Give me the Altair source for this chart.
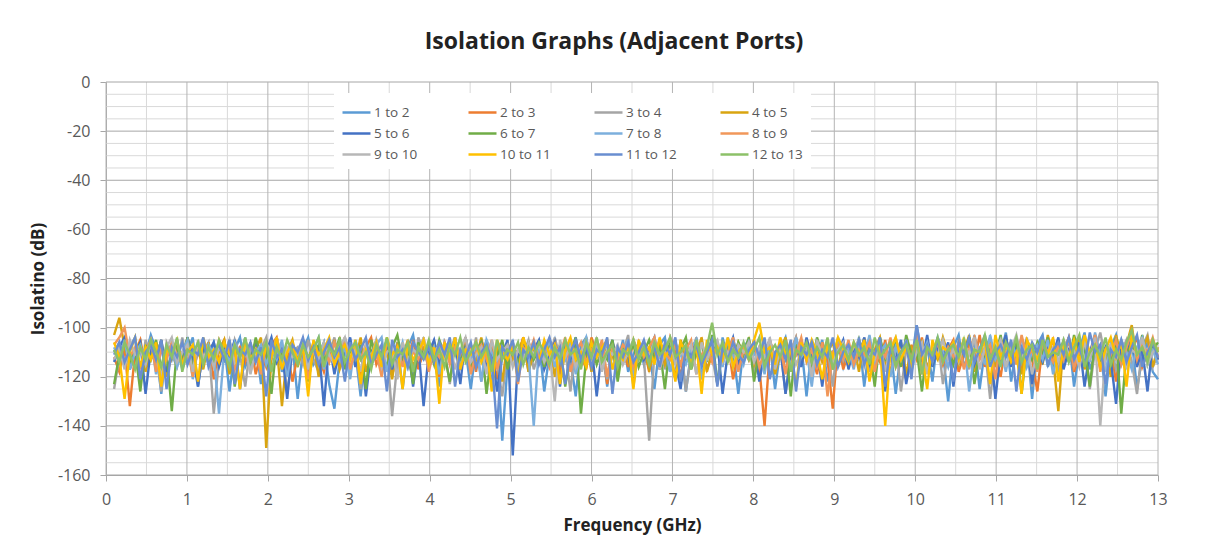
import altair as alt
import numpy as np
import pandas as pd

SERIES = ["1 to 2", "2 to 3", "3 to 4", "4 to 5", "5 to 6", "6 to 7",
          "7 to 8", "8 to 9", "9 to 10", "10 to 11", "11 to 12", "12 to 13"]
COLORS = ["#5B9BD5", "#ED7D31", "#A5A5A5", "#D9A410", "#4472C4", "#70AD47",
          "#7CAFDD", "#F1975A", "#B7B7B7", "#FFC000", "#698ED0", "#8CC168"]

F_START, F_STOP = 0.1, 13.0   # sweep range in GHz

S1 = [-110,-106,-115,-108,-104,-122,-111,-103,-109,-127,-107,-113,-105,-117,-110,-104,-124,-108,-112,-106,
      -114,-107,-126,-109,-104,-116,-111,-106,-123,-108,-113,-105,-118,-110,-107,-129,-109,-104,-115,-111,
      -106,-123,-133,-113,-104,-117,-110,-128,-107,-112,-105,-118,-109,-114,-106,-125,-108,-103,-116,-110,
      -107,-113,-124,-106,-111,-104,-117,-109,-125,-108,-112,-105,-123,-110,-146,-115,-107,-113,-104,-118,
      -109,-106,-126,-111,-105,-116,-108,-113,-128,-107,-104,-117,-110,-106,-124,-109,-114,-105,-118,-111,
      -106,-115,-109,-125,-107,-104,-118,-111,-108,-126,-110,-105,-116,-112,-107,-123,-104,-113,-109,-127,
      -108,-105,-117,-110,-114,-106,-125,-109,-104,-115,-111,-107,-128,-108,-112,-105,-122,-110,-106,-116,
      -109,-113,-104,-124,-107,-111,-105,-117,-108,-127,-110,-106,-114,-99,-112,-107,-122,-104,-110,-130,
      -108,-103,-116,-110,-106,-125,-109,-104,-115,-111,-102,-122,-108,-113,-105,-129,-107,-103,-116,-110,
      -106,-114,-104,-124,-109,-102,-117,-111,-107,-128,-108,-103,-115,-110,-105,-125,-112,-106,-118,-121]
S2 = [-112,-118,-108,-132,-110,-105,-116,-109,-114,-106,-120,-111,-107,-115,-104,-118,-110,-113,-106,-121,
      -109,-105,-117,-112,-108,-114,-106,-119,-110,-116,-107,-104,-113,-109,-122,-111,-106,-115,-108,-112,
      -118,-107,-111,-105,-116,-109,-113,-120,-108,-104,-115,-110,-106,-119,-112,-107,-114,-105,-117,-109,
      -111,-106,-120,-108,-113,-104,-116,-110,-107,-118,-105,-112,-109,-121,-106,-114,-108,-111,-104,-117,
      -110,-107,-115,-112,-105,-119,-109,-106,-114,-111,-117,-104,-110,-108,-123,-106,-113,-109,-116,-105,
      -112,-108,-118,-106,-111,-115,-104,-110,-120,-107,-113,-109,-105,-117,-111,-108,-114,-106,-121,-110,
      -107,-113,-105,-116,-140,-109,-112,-106,-118,-110,-104,-115,-108,-111,-119,-106,-113,-133,-105,-117,
      -110,-109,-112,-106,-116,-110,-114,-105,-119,-108,-111,-121,-107,-113,-104,-117,-110,-106,-115,-109,
      -105,-118,-111,-107,-114,-103,-116,-109,-112,-120,-106,-110,-104,-117,-108,-113,-126,-107,-111,-105,
      -115,-109,-104,-118,-110,-106,-113,-103,-117,-111,-108,-122,-105,-112,-109,-104,-116,-110,-107,-113]
S3 = [-125,-112,-107,-115,-110,-122,-105,-113,-109,-126,-106,-111,-116,-104,-114,-108,-123,-110,-106,-135,
      -113,-108,-116,-105,-111,-124,-107,-114,-109,-104,-117,-112,-106,-127,-110,-108,-115,-105,-113,-118,
      -107,-111,-104,-116,-109,-113,-106,-125,-110,-115,-105,-112,-108,-136,-114,-107,-111,-122,-104,-110,
      -116,-106,-113,-109,-123,-105,-112,-108,-115,-104,-122,-110,-107,-114,-128,-109,-106,-113,-111,-105,
      -117,-110,-107,-114,-104,-112,-109,-126,-106,-113,-108,-116,-105,-111,-121,-107,-114,-110,-103,-124,
      -108,-112,-146,-110,-105,-117,-109,-113,-106,-126,-111,-104,-115,-108,-112,-123,-106,-110,-114,-107,
      -113,-105,-119,-109,-111,-106,-116,-108,-127,-110,-104,-114,-109,-117,-106,-112,-108,-124,-105,-111,
      -116,-108,-113,-104,-118,-110,-107,-115,-111,-106,-126,-109,-113,-105,-117,-108,-112,-104,-123,-110,
      -106,-114,-109,-117,-103,-112,-108,-129,-110,-105,-116,-111,-107,-114,-104,-124,-109,-113,-106,-111,
      -118,-105,-112,-108,-115,-104,-125,-109,-102,-113,-107,-117,-110,-105,-114,-127,-108,-103,-116,-111]
S4 = [-103,-96,-108,-115,-110,-106,-118,-109,-113,-105,-120,-111,-107,-116,-104,-112,-109,-117,-106,-114,
      -110,-105,-119,-108,-112,-106,-115,-109,-104,-149,-111,-107,-132,-110,-105,-116,-108,-113,-106,-120,
      -109,-114,-105,-117,-111,-107,-113,-104,-118,-110,-106,-115,-109,-121,-107,-112,-105,-116,-110,-108,
      -114,-106,-119,-109,-112,-105,-117,-110,-107,-113,-104,-116,-111,-108,-122,-106,-113,-109,-105,-118,
      -110,-107,-114,-105,-120,-109,-112,-106,-116,-110,-104,-118,-108,-113,-106,-111,-119,-107,-114,-105,
      -112,-108,-117,-110,-106,-115,-109,-121,-105,-113,-108,-111,-104,-118,-110,-107,-114,-109,-116,-106,
      -111,-105,-115,-108,-113,-106,-119,-110,-104,-117,-109,-112,-107,-120,-105,-114,-110,-106,-116,-108,
      -113,-107,-118,-105,-111,-109,-104,-116,-110,-114,-106,-119,-108,-112,-105,-117,-109,-113,-104,-111,
      -107,-115,-110,-103,-118,-109,-112,-106,-116,-108,-104,-113,-110,-119,-106,-111,-107,-115,-103,-112,
      -134,-106,-113,-109,-104,-117,-110,-105,-115,-108,-120,-103,-112,-107,-99,-114,-109,-104,-116,-108]
S5 = [-114,-108,-104,-117,-110,-106,-127,-109,-113,-105,-118,-111,-107,-115,-104,-112,-124,-108,-110,-106,
      -116,-109,-112,-105,-125,-108,-113,-106,-117,-110,-104,-114,-109,-129,-107,-111,-105,-118,-110,-108,
      -132,-106,-119,-109,-111,-104,-116,-108,-128,-110,-107,-113,-105,-117,-109,-112,-106,-124,-108,-132,
      -110,-105,-115,-109,-112,-107,-123,-104,-113,-110,-106,-116,-108,-126,-111,-105,-152,-112,-107,-114,
      -109,-105,-117,-111,-106,-124,-108,-113,-104,-115,-110,-107,-128,-109,-112,-105,-116,-108,-111,-122,
      -106,-113,-109,-104,-117,-110,-107,-114,-125,-108,-111,-105,-121,-109,-113,-106,-127,-110,-104,-115,
      -109,-112,-106,-122,-110,-105,-114,-108,-127,-111,-107,-116,-104,-112,-109,-124,-106,-113,-110,-105,
      -117,-108,-112,-104,-115,-110,-106,-126,-109,-113,-105,-123,-111,-107,-114,-103,-116,-109,-112,-106,
      -124,-107,-111,-104,-115,-109,-113,-106,-129,-110,-103,-116,-108,-112,-105,-123,-109,-114,-107,-111,
      -104,-117,-109,-112,-106,-124,-110,-103,-115,-108,-113,-131,-107,-111,-104,-116,-109,-126,-106,-113]
S6 = [-123,-111,-106,-114,-109,-126,-107,-113,-105,-116,-110,-134,-108,-112,-104,-117,-109,-106,-115,-111,
      -107,-113,-105,-124,-110,-108,-115,-104,-112,-109,-127,-106,-111,-116,-108,-113,-105,-122,-110,-107,
      -114,-106,-111,-104,-117,-109,-113,-107,-125,-105,-112,-110,-116,-108,-103,-114,-109,-123,-106,-112,
      -108,-115,-105,-111,-122,-107,-113,-104,-116,-110,-106,-127,-109,-112,-105,-117,-108,-114,-110,-106,
      -113,-109,-116,-105,-111,-107,-124,-110,-104,-135,-112,-106,-115,-109,-113,-105,-122,-108,-111,-107,
      -116,-110,-105,-113,-108,-125,-106,-112,-109,-104,-117,-111,-107,-114,-103,-123,-110,-108,-113,-106,
      -111,-104,-122,-109,-113,-106,-115,-110,-107,-128,-105,-112,-109,-116,-104,-111,-108,-117,-106,-113,
      -109,-115,-105,-112,-108,-124,-104,-113,-110,-106,-116,-103,-111,-109,-126,-107,-114,-105,-112,-108,
      -115,-106,-110,-104,-123,-109,-113,-107,-112,-103,-116,-110,-105,-127,-108,-113,-106,-111,-104,-117,
      -110,-106,-114,-103,-111,-108,-124,-105,-113,-109,-116,-104,-135,-110,-107,-112,-103,-115,-109,-106]
S7 = [-108,-113,-105,-117,-110,-107,-115,-104,-119,-109,-112,-106,-116,-110,-105,-121,-108,-113,-107,-111,
      -135,-109,-114,-106,-112,-104,-118,-110,-107,-115,-109,-113,-105,-120,-108,-111,-106,-116,-109,-104,
      -117,-110,-106,-113,-108,-121,-105,-112,-109,-115,-107,-104,-118,-110,-113,-106,-116,-109,-111,-105,
      -113,-108,-119,-106,-111,-104,-116,-109,-113,-107,-122,-105,-110,-115,-108,-112,-106,-117,-109,-111,
      -140,-107,-112,-105,-116,-109,-113,-106,-119,-110,-104,-114,-108,-111,-106,-117,-109,-113,-105,-120,
      -110,-107,-114,-104,-112,-109,-118,-106,-111,-115,-108,-105,-121,-110,-113,-107,-116,-104,-112,-109,
      -115,-106,-111,-108,-119,-105,-113,-110,-107,-116,-104,-112,-109,-124,-106,-111,-108,-115,-104,-113,
      -109,-117,-106,-112,-103,-115,-110,-107,-120,-108,-113,-105,-118,-109,-111,-106,-114,-104,-110,-116,
      -107,-112,-105,-126,-110,-108,-115,-103,-113,-109,-118,-106,-111,-104,-116,-110,-107,-113,-105,-119,
      -108,-112,-104,-116,-109,-106,-114,-102,-111,-118,-107,-113,-105,-110,-117,-108,-104,-112,-109,-115]
S8 = [-107,-104,-100,-112,-108,-116,-110,-105,-118,-109,-113,-106,-111,-115,-108,-120,-106,-112,-109,-114,
      -105,-111,-108,-117,-110,-106,-113,-109,-119,-107,-112,-104,-115,-110,-108,-114,-106,-121,-109,-111,
      -108,-114,-106,-111,-104,-117,-109,-113,-107,-115,-110,-120,-105,-112,-108,-116,-106,-110,-113,-104,
      -118,-109,-112,-106,-115,-108,-111,-104,-119,-110,-107,-113,-105,-117,-109,-112,-106,-123,-108,-111,
      -105,-113,-109,-116,-107,-111,-104,-118,-110,-106,-114,-109,-112,-105,-120,-108,-113,-107,-110,-116,
      -106,-112,-108,-104,-117,-110,-113,-107,-115,-109,-105,-119,-111,-108,-114,-106,-112,-110,-104,-118,
      -109,-113,-106,-116,-110,-105,-112,-108,-119,-107,-111,-104,-114,-109,-117,-106,-128,-110,-107,-113,
      -105,-115,-109,-111,-106,-118,-108,-112,-104,-116,-110,-107,-113,-103,-119,-109,-111,-106,-114,-108,
      -112,-106,-117,-109,-104,-113,-110,-107,-121,-105,-111,-108,-115,-103,-112,-109,-118,-106,-110,-114,
      -107,-113,-104,-116,-110,-106,-112,-103,-118,-109,-111,-105,-115,-108,-101,-113,-107,-110,-104,-112]
S9 = [-113,-108,-117,-105,-111,-109,-115,-106,-112,-120,-108,-104,-114,-110,-107,-118,-105,-112,-109,-116,
      -108,-112,-105,-114,-110,-107,-119,-109,-113,-106,-111,-104,-116,-108,-112,-110,-105,-117,-109,-113,
      -106,-111,-115,-108,-104,-113,-109,-118,-107,-112,-105,-116,-110,-108,-121,-106,-113,-109,-111,-104,
      -115,-110,-107,-112,-106,-117,-109,-104,-114,-111,-108,-119,-105,-113,-110,-107,-116,-109,-112,-106,
      -111,-107,-114,-109,-130,-105,-112,-108,-116,-110,-106,-113,-104,-118,-109,-111,-107,-115,-110,-105,
      -113,-108,-111,-106,-117,-109,-104,-115,-110,-112,-107,-119,-106,-113,-108,-105,-114,-110,-116,-107,
      -110,-106,-114,-108,-112,-104,-117,-109,-111,-106,-115,-110,-107,-120,-105,-112,-108,-114,-109,-106,
      -112,-108,-105,-116,-110,-113,-106,-118,-109,-104,-112,-107,-115,-110,-106,-119,-108,-111,-105,-113,
      -109,-114,-106,-111,-104,-117,-108,-112,-110,-105,-116,-109,-103,-113,-107,-119,-110,-106,-112,-108,
      -114,-105,-111,-109,-116,-106,-112,-104,-140,-110,-107,-113,-105,-117,-109,-111,-104,-115,-110,-108]
S10 = [-106,-112,-129,-110,-104,-116,-108,-113,-106,-124,-109,-111,-105,-115,-110,-107,-122,-104,-112,-109,
       -114,-106,-111,-108,-125,-105,-113,-109,-116,-107,-112,-104,-117,-110,-106,-114,-108,-128,-105,-111,
       -109,-104,-115,-110,-107,-113,-105,-123,-109,-112,-106,-116,-104,-111,-108,-125,-106,-113,-110,-105,
       -115,-108,-131,-106,-112,-104,-117,-109,-111,-106,-114,-108,-126,-105,-110,-113,-107,-121,-104,-111,
       -108,-114,-105,-111,-107,-123,-109,-104,-113,-110,-116,-106,-112,-108,-105,-117,-110,-113,-107,-125,
       -105,-111,-108,-115,-104,-112,-109,-122,-106,-110,-114,-107,-127,-105,-111,-108,-113,-104,-116,-110,
       -107,-112,-105,-98,-110,-108,-115,-104,-111,-109,-124,-106,-113,-105,-110,-121,-107,-112,-104,-109,
       -114,-106,-111,-105,-122,-110,-107,-140,-109,-104,-113,-108,-115,-106,-111,-125,-105,-112,-108,-110,
       -106,-113,-104,-116,-109,-111,-105,-123,-103,-112,-107,-114,-110,-127,-105,-109,-113,-106,-111,-104,
       -122,-108,-112,-105,-114,-103,-110,-107,-116,-109,-104,-112,-106,-124,-103,-111,-108,-113,-105,-110]
S11 = [-111,-106,-114,-109,-104,-121,-110,-107,-113,-105,-125,-108,-112,-106,-115,-109,-111,-104,-116,-110,
       -107,-113,-105,-123,-109,-111,-106,-114,-108,-128,-105,-112,-109,-116,-107,-110,-104,-113,-108,-115,
       -110,-105,-112,-108,-122,-106,-113,-109,-104,-115,-111,-107,-126,-105,-112,-109,-116,-106,-110,-113,
       -108,-114,-106,-111,-104,-124,-109,-112,-106,-116,-110,-107,-113,-141,-108,-111,-105,-122,-109,-112,
       -106,-115,-109,-104,-112,-108,-123,-110,-105,-113,-107,-116,-109,-111,-104,-127,-108,-112,-106,-114,
       -110,-105,-113,-108,-116,-106,-111,-104,-122,-109,-112,-107,-115,-110,-105,-124,-108,-113,-106,-111,
       -114,-109,-106,-112,-104,-121,-110,-107,-113,-105,-126,-108,-111,-106,-115,-109,-112,-104,-116,-110,
       -107,-112,-105,-115,-109,-111,-104,-124,-108,-113,-110,-106,-121,-99,-111,-107,-114,-105,-112,-109,
       -122,-106,-111,-104,-114,-109,-103,-116,-110,-107,-112,-105,-126,-108,-113,-106,-110,-104,-115,-109,
       -106,-111,-104,-113,-108,-115,-102,-110,-107,-123,-109,-112,-105,-114,-108,-103,-116,-110,-106,-112]
S12 = [-109,-114,-106,-111,-117,-108,-113,-105,-110,-116,-107,-112,-104,-118,-109,-111,-106,-115,-108,-113,
       -105,-110,-116,-107,-112,-104,-114,-109,-111,-106,-118,-108,-113,-105,-110,-115,-107,-112,-109,-104,
       -116,-108,-111,-105,-114,-109,-106,-113,-110,-117,-107,-112,-104,-115,-109,-111,-106,-118,-108,-112,
       -105,-113,-109,-116,-107,-111,-104,-114,-110,-106,-112,-108,-118,-105,-113,-109,-111,-106,-115,-108,
       -112,-106,-110,-115,-108,-113,-105,-111,-109,-117,-106,-112,-104,-114,-110,-107,-116,-109,-111,-105,
       -113,-108,-115,-106,-111,-109,-104,-112,-110,-107,-117,-105,-113,-108,-98,-111,-106,-114,-109,-112,
       -106,-113,-109,-104,-116,-110,-107,-112,-105,-118,-109,-111,-106,-114,-108,-112,-104,-117,-110,-107,
       -113,-106,-111,-108,-115,-104,-112,-109,-106,-116,-110,-107,-113,-105,-119,-108,-111,-104,-114,-109,
       -107,-112,-105,-115,-109,-110,-103,-113,-108,-116,-106,-111,-104,-114,-109,-107,-117,-105,-112,-110,
       -111,-105,-114,-108,-103,-116,-110,-107,-112,-104,-115,-109,-113,-106,-101,-111,-108,-114,-105,-110]

VALUES = [S1, S2, S3, S4, S5, S6, S7, S8, S9, S10, S11, S12]

X_TICKS = list(range(0, 14))
X_MINOR = [i + 0.5 for i in range(0, 13)]
Y_TICKS = list(range(-160, 1, 20))
Y_MINOR = [v for v in range(-155, 0, 5) if v % 20 != 0]

rows = []
for name, vals in zip(SERIES, VALUES):
    freqs = np.linspace(F_START, F_STOP, len(vals))
    for f, v in zip(freqs, vals):
        rows.append({"series": name, "freq": float(f), "iso": v})
df = pd.DataFrame(rows)

FONT = "Open Sans"
xscale = alt.Scale(domain=[0, 13], nice=False, zero=False)
yscale = alt.Scale(domain=[-160, 0], nice=False, zero=False)

X_AXIS = alt.Axis(values=X_TICKS, labelExpr="'' + datum.value", grid=False, title="Frequency (GHz)",
                  domainColor="#a6a6a6", tickColor="#a6a6a6", tickSize=6, labelPadding=10,
                  labelFont=FONT, labelFontSize=16, labelColor="#595959", labelFlush=False,
                  titleFont=FONT, titleFontSize=17, titleFontWeight="bold",
                  titleColor="#222222", titlePadding=10)
Y_AXIS = alt.Axis(values=Y_TICKS, labelExpr="'' + datum.value", grid=False, title="Isolatino (dB)",
                  domainColor="#a6a6a6", tickColor="#a6a6a6", tickSize=6, labelPadding=10,
                  labelFont=FONT, labelFontSize=16, labelColor="#595959",
                  titleFont=FONT, titleFontSize=17, titleFontWeight="bold",
                  titleColor="#222222", titlePadding=10)

minor_y = alt.Chart(pd.DataFrame({"iso": Y_MINOR})).mark_rule(color="#d9d9d9", strokeWidth=1).encode(
    y=alt.Y("iso:Q", scale=yscale, axis=Y_AXIS))
minor_x = alt.Chart(pd.DataFrame({"freq": X_MINOR})).mark_rule(color="#d9d9d9", strokeWidth=1).encode(
    x=alt.X("freq:Q", scale=xscale, axis=X_AXIS))
major_y = alt.Chart(pd.DataFrame({"iso": Y_TICKS})).mark_rule(color="#a6a6a6", strokeWidth=1).encode(
    y=alt.Y("iso:Q", scale=yscale, axis=Y_AXIS))
major_x = alt.Chart(pd.DataFrame({"freq": X_TICKS})).mark_rule(color="#b4b4b4", strokeWidth=1).encode(
    x=alt.X("freq:Q", scale=xscale, axis=X_AXIS))

lines = alt.Chart(df).mark_line(strokeWidth=2.4).encode(
    x=alt.X("freq:Q", scale=xscale, axis=X_AXIS),
    y=alt.Y("iso:Q", scale=yscale, axis=Y_AXIS),
    color=alt.Color("series:N", sort=SERIES,
                    scale=alt.Scale(domain=SERIES, range=COLORS),
                    legend=alt.Legend(orient="none", legendX=228, legendY=11, columns=4,
                                      direction="horizontal",
                                      title=None, fillColor="white", padding=8,
                                      symbolType="M-1.4,0H1.4", symbolSize=400,
                                      symbolStrokeWidth=2.5, symbolOffset=3, labelOffset=6,
                                      labelFont=FONT, labelFontSize=13.5, labelColor="#595959",
                                      rowPadding=3, columnPadding=38, gridAlign="all",
                                      labelLimit=200)),
    detail="series:N",
)

chart = alt.layer(minor_y, minor_x, major_y, major_x, lines).properties(
    width=1052, height=393,
    autosize=alt.AutoSizeParams(type="none"),
    padding={"left": 98, "top": 74, "right": 57, "bottom": 70},
    background="white",
    title=alt.TitleParams("Isolation Graphs (Adjacent Ports)", font=FONT, fontSize=23,
                          fontWeight="bold", color="#222222", anchor="middle", dx=-18,
                          baseline="alphabetic", offset=2),
).configure_view(stroke="transparent")

chart.save("out.html", embed_options={"renderer": "svg", "actions": False})
